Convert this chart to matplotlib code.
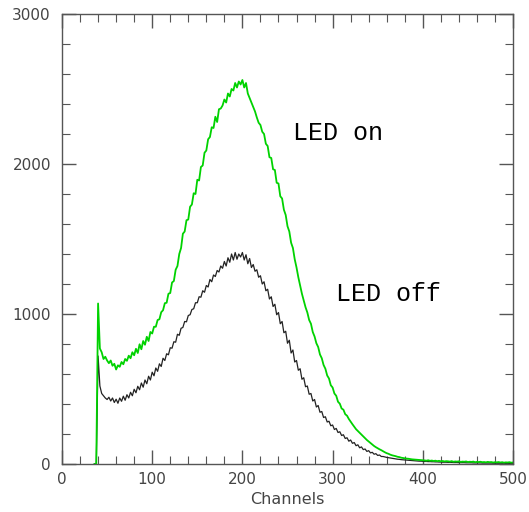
import numpy as np
import matplotlib
matplotlib.use("Agg")
import matplotlib.pyplot as plt

# Channels (x categories), 36..500 step 2
channels = np.arange(36, 501, 2)

# LED on (green) counts, 10 values per line (20 channels per line)
led_on = [
    0, 0, 1070, 770, 745, 700, 715, 690, 672, 690,
    655, 668, 630, 658, 648, 680, 665, 700, 688, 722,
    705, 745, 725, 768, 740, 798, 765, 820, 795, 848,
    820, 880, 870, 915, 915, 960, 965, 1012, 1025, 1072,
    1075, 1135, 1140, 1210, 1220, 1295, 1320, 1400, 1440, 1535,
    1550, 1625, 1630, 1715, 1730, 1805, 1800, 1895, 1890, 1980,
    1990, 2075, 2090, 2165, 2180, 2245, 2240, 2315, 2280, 2365,
    2370, 2390, 2430, 2410, 2470, 2450, 2500, 2490, 2540, 2510,
    2550, 2530, 2560, 2510, 2540, 2470, 2440, 2410, 2380, 2350,
    2310, 2275, 2260, 2215, 2200, 2135, 2120, 2045, 2040, 1965,
    1960, 1875, 1870, 1785, 1770, 1695, 1660, 1585, 1550, 1475,
    1440, 1365, 1310, 1245, 1190, 1135, 1090, 1045, 1010, 960,
    935, 880, 850, 805, 780, 730, 705, 660, 635, 590,
    570, 525, 510, 470, 455, 415, 402, 370, 362, 332,
    322, 300, 282, 265, 248, 232, 220, 208, 195, 185,
    172, 160, 150, 140, 130, 120, 112, 105, 98, 92,
    85, 78, 72, 68, 62, 58, 55, 52, 48, 46,
    42, 40, 38, 36, 35, 33, 31, 30, 29, 28,
    27, 26, 25, 24, 22, 25, 21, 23, 20, 22,
    19, 21, 18, 20, 17, 19, 18, 16, 19, 15,
    17, 16, 18, 14, 16, 15, 17, 13, 15, 14,
    16, 12, 14, 13, 15, 12, 13, 11, 14, 12,
    13, 10, 12, 11, 13, 10, 12, 9, 11, 10,
    12, 9, 10,
]

# LED off (black) counts
led_off = [
    0, 0, 720, 520, 470, 455, 440, 430, 445, 420,
    440, 410, 432, 405, 440, 418, 452, 425, 462, 440,
    478, 455, 498, 475, 518, 495, 540, 512, 560, 535,
    585, 560, 612, 588, 640, 618, 668, 650, 705, 690,
    735, 728, 775, 772, 815, 812, 865, 858, 905, 910,
    950, 948, 990, 995, 1030, 1035, 1075, 1075, 1115, 1112,
    1155, 1145, 1190, 1180, 1230, 1215, 1260, 1250, 1290, 1280,
    1320, 1305, 1350, 1320, 1375, 1345, 1400, 1360, 1410, 1365,
    1400, 1380, 1410, 1360, 1395, 1335, 1370, 1310, 1330, 1285,
    1295, 1245, 1255, 1200, 1215, 1155, 1165, 1100, 1115, 1050,
    1065, 995, 1010, 935, 950, 875, 885, 805, 825, 740,
    760, 680, 690, 625, 635, 565, 575, 515, 520, 465,
    470, 420, 430, 380, 390, 345, 350, 310, 315, 280,
    285, 255, 260, 230, 237, 210, 215, 190, 195, 170,
    175, 152, 160, 138, 143, 122, 128, 108, 114, 96,
    100, 84, 89, 74, 78, 65, 69, 57, 60, 50,
    50, 47, 44, 42, 40, 38, 36, 34, 32, 31,
    29, 28, 27, 26, 25, 24, 23, 22, 21, 20,
    19, 19, 18, 17, 17, 16, 16, 15, 15, 14,
    14, 13, 13, 12, 12, 12, 11, 11, 11, 10,
    10, 10, 9, 9, 9, 9, 8, 8, 8, 8,
    7, 7, 7, 7, 7, 6, 6, 6, 6, 6,
    6, 5, 5, 5, 5, 5, 5, 5, 4, 4,
    4, 4, 4,
]

assert len(led_on) == len(channels) and len(led_off) == len(channels)

x_ticks = [0, 100, 200, 300, 400, 500]
y_ticks = [0, 1000, 2000, 3000]

fig = plt.figure(figsize=(5.29, 5.12), dpi=100)
ax = fig.add_axes([62/529, 48/512, (513-62)/529, (464-14)/512])

ax.plot(channels, led_off, color="#222222", lw=0.9)
ax.plot(channels, led_on, color="#00d200", lw=1.3)

ax.set_xlim(0, 500)
ax.set_ylim(0, 3000)
ax.set_xticks(x_ticks)
ax.set_yticks(y_ticks)
ax.set_xticks(np.arange(0, 501, 20), minor=True)
ax.set_yticks(np.arange(0, 3001, 200), minor=True)

grey = "#555555"
for s in ax.spines.values():
    s.set_color(grey)
    s.set_linewidth(1.0)
ax.tick_params(which="both", direction="in", top=True, right=True, colors=grey)
ax.tick_params(which="major", length=10, width=1.0, labelsize=11, labelcolor="#444444")
ax.tick_params(which="minor", length=6, width=0.8)
ax.tick_params(axis="y", pad=8)
ax.tick_params(axis="x", pad=6)

ax.set_xlabel("Channels", fontsize=11.5, color="#444444", labelpad=3)

ax.text(256, 2160, "LED on", family="Liberation Mono", fontsize=18, color="black")
ax.text(304, 1087, "LED off", family="Liberation Mono", fontsize=18, color="black")

fig.savefig("out.png", dpi=100)
